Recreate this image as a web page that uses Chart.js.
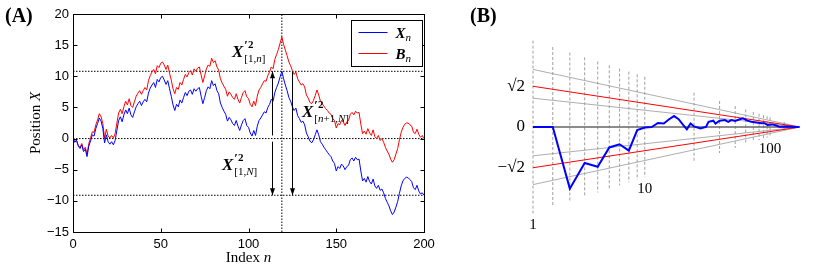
<!DOCTYPE html>
<html>
<head>
<meta charset="utf-8">
<script src="https://cdn.jsdelivr.net/npm/chart.js@4.4.0/dist/chart.umd.min.js"></script>
<style>
body{margin:0;background:#fff;}
#wrap{position:relative;width:831px;height:269px;}
canvas{position:absolute;top:0;}
#chartA{left:0;}
#chartB{left:440px;}
</style>
</head>
<body>
<div id="wrap">
<canvas id="chartA" width="440" height="269"></canvas>
<canvas id="chartB" width="391" height="269"></canvas>
</div>
<script>
// ---- panel A : walk X_n and bridge B_n, n = 0..200
const walkX = [
  0, -0.6, -0.3, -1.2, -1.6, -1.0, -2.1, -1.7, -2.9, -1.2,
  -0.4, 0.6, 0.4, 1.6, 2.4, 3.3, 2.8, 1.6, -0.7, 0.6,
  -0.5, -0.9, -0.5, -1.0, -0.3, 1.3, 2.9, 3.5, 2.7, 3.8,
  4.6, 4.0, 4.9, 3.8, 3.4, 4.3, 5.1, 5.6, 6.0, 5.3,
  5.9, 6.3, 5.9, 7.3, 8.1, 8.6, 9.0, 8.2, 9.5, 9.1,
  9.8, 10.0, 9.4, 8.7, 9.3, 8.0, 6.8, 5.4, 4.5, 5.5,
  5.1, 6.2, 5.7, 6.6, 7.4, 6.9, 7.6, 7.8, 7.1, 8.0,
  7.6, 8.0, 8.2, 6.8, 5.6, 6.6, 7.7, 8.3, 8.0, 9.3,
  8.5, 8.8, 7.7, 7.2, 5.7, 5.0, 4.4, 3.9, 2.8, 3.4,
  3.0, 2.4, 2.1, 2.9, 2.0, 1.3, 2.2, 2.9, 3.2, 2.1,
  1.8, 0.9, 0.4, 1.3, 0.5, 2.0, 2.9, 3.3, 3.8, 4.3,
  4.1, 5.0, 5.5, 6.3, 6.0, 7.4, 8.2, 8.9, 9.9, 10.8,
  9.6, 8.6, 7.7, 6.6, 6.0, 5.1, 4.5, 4.9, 3.7, 3.2,
  2.6, 2.8, 2.2, 0.9, 0.3, -0.4, -0.7, -0.2, 0.6, 1.4,
  0.6, -0.5, -0.9, -1.4, -1.8, -2.2, -2.6, -2.9, -3.6, -4.0,
  -5.2, -4.5, -4.8, -4.1, -4.4, -5.0, -4.5, -4.3, -3.4, -3.1,
  -3.6, -3.0, -3.4, -3.3, -5.2, -6.8, -6.4, -7.0, -6.1, -6.9,
  -7.3, -6.5, -7.6, -8.0, -7.5, -8.3, -8.1, -8.7, -9.6, -10.2,
  -10.8, -11.6, -12.2, -11.8, -11.0, -10.1, -8.8, -7.6, -6.8, -6.4,
  -6.2, -6.3, -6.6, -6.9, -7.9, -8.2, -7.5, -8.4, -8.9, -8.7,
  -9.1
];
const bridgeB = [
  0, -0.5, -0.2, -1.1, -1.4, -0.8, -1.8, -1.4, -2.5, -0.8,
  0.1, 1.1, 1.0, 2.2, 3.0, 4.0, 3.5, 2.4, 0.1, 1.5,
  0.4, 0.1, 0.5, 0.1, 0.8, 2.5, 4.1, 4.7, 4.0, 5.1,
  6.0, 5.4, 6.4, 5.3, 5.0, 5.9, 6.8, 7.3, 7.7, 7.1,
  7.7, 8.2, 7.8, 9.3, 10.1, 10.7, 11.1, 10.4, 11.7, 11.4,
  12.1, 12.3, 11.8, 11.1, 11.8, 10.5, 9.4, 8.0, 7.2, 8.2,
  7.9, 9.0, 8.6, 9.5, 10.3, 9.9, 10.6, 10.9, 10.2, 11.2,
  10.8, 11.3, 11.5, 10.2, 9.0, 10.1, 11.2, 11.8, 11.6, 12.9,
  12.2, 12.5, 11.5, 11.0, 9.6, 8.9, 8.4, 7.9, 6.8, 7.5,
  7.1, 6.6, 6.3, 7.2, 6.3, 5.7, 6.6, 7.4, 7.7, 6.7,
  6.4, 5.5, 5.1, 6.0, 5.3, 6.8, 7.8, 8.2, 8.8, 9.3,
  9.2, 10.1, 10.7, 11.5, 11.2, 12.7, 13.5, 14.3, 15.3, 16.3,
  15.1, 14.2, 13.3, 12.3, 11.7, 10.9, 10.3, 10.7, 9.6, 9.1,
  8.6, 8.8, 8.3, 7.0, 6.5, 5.8, 5.6, 6.1, 6.9, 7.8,
  7.0, 6.0, 5.6, 5.2, 4.8, 4.5, 4.1, 3.9, 3.2, 2.9,
  1.7, 2.4, 2.2, 2.9, 2.7, 2.1, 2.7, 2.9, 3.9, 4.2,
  3.8, 4.4, 4.1, 4.2, 2.3, 0.8, 1.2, 0.7, 1.6, 0.9,
  0.5, 1.4, 0.3, 0.0, 0.5, -0.3, 0.0, -0.6, -1.4, -2.0,
  -2.5, -3.3, -3.8, -3.4, -2.5, -1.6, -0.2, 1.0, 1.8, 2.3,
  2.5, 2.5, 2.2, 2.0, 1.0, 0.8, 1.5, 0.7, 0.2, 0.5,
  0.0
];
const xTicksA = [0, 50, 100, 150, 200];
const yTicksA = [-15, -10, -5, 0, 5, 10, 15, 20];
const maxX = 10.8;   // max of X_n
const endX = -9.1;   // X_N
const nStar = 119;   // argmax

// ---- panel B
const bN = [1, 2, 3, 4, 5, 6, 7, 8, 9, 10, 11, 12, 13, 14, 15, 16, 17, 18, 19, 20,
  22, 24, 25, 27, 28, 30, 33, 35, 37, 40, 44, 47, 52, 57, 65, 75, 83, 91, 110, 129, 150, 230, 500, 3000];
const bY = [0, 0, -2.14, -1.25, -1.38, -0.71, -0.60, -0.82, -0.11, -0.02, 0.0, 0.14, 0.12, 0.27, 0.38, 0.27, 0.08, -0.08, 0.12, 0.02,
  -0.05, 0.0, 0.18, 0.22, 0.12, 0.22, 0.24, 0.18, 0.24, 0.21, 0.27, 0.30, 0.22, 0.18, 0.16, 0.13, 0.13, 0.07, 0.09, 0.05, 0.01, 0.02, 0.0, 0.0];
const gridN = [1, 2, 3, 4, 5, 6, 7, 8, 9, 10, 20, 30, 40, 50, 60, 70, 80, 90, 100, 200];
const labelN = [1, 10, 100];
const coneGray = [1, 2];
const coneRed = [Math.SQRT2];
const coneTop = 3;
const cScale = 11.5;

const serif = '"Liberation Serif", "DejaVu Serif", serif';
Chart.defaults.font.family = '"Liberation Sans", Arial, sans-serif';
Chart.defaults.color = '#000';

function rich(ctx, x, y, parts, center) {
  let w = 0;
  parts.forEach(p => { ctx.font = p.f; w += ctx.measureText(p.t).width; });
  let cx = center ? x - w / 2 : x;
  parts.forEach(p => {
    ctx.font = p.f;
    ctx.fillText(p.t, cx, y + (p.dy || 0));
    cx += ctx.measureText(p.t).width;
  });
  return cx;
}

function primeLabel(ctx, x, y, sub) {
  ctx.font = 'bold italic 17px ' + serif;
  ctx.fillText('X', x, y);
  const sx = x + ctx.measureText('X').width + 1;
  rich(ctx, sx, y - 8, [{t: '\u2032', f: 'bold 13px ' + serif}, {t: '2', f: 'bold 11px ' + serif, dy: -1}]);
  rich(ctx, sx, y + 5, sub);
}

function arrow(ctx, px, y0, y1) {
  ctx.beginPath(); ctx.moveTo(px, y0); ctx.lineTo(px, y1); ctx.stroke();
  const d = y1 > y0 ? 1 : -1;
  ctx.beginPath();
  ctx.moveTo(px, y1);
  ctx.lineTo(px - 2.5, y1 - d * 7);
  ctx.lineTo(px + 2.5, y1 - d * 7);
  ctx.closePath(); ctx.fill();
}

const sub = '11px ' + serif, subI = 'italic 11px ' + serif;

const panelA = {
  id: 'panelA',
  afterDatasetsDraw(chart) {
    const {ctx, chartArea: a, scales: {x, y}} = chart;
    ctx.save();
    ctx.strokeStyle = '#000';
    ctx.fillStyle = '#000';
    ctx.lineWidth = 1;
    const L = Math.round(a.left) + 0.5, R = Math.round(a.right) + 0.5;
    const T = Math.round(a.top) + 0.5, B = Math.round(a.bottom) + 0.5;
    ctx.strokeRect(L, T, R - L, B - T);
    ctx.beginPath();
    xTicksA.forEach(v => {
      const px = Math.round(x.getPixelForValue(v)) + 0.5;
      ctx.moveTo(px, B); ctx.lineTo(px, B - 4);
      ctx.moveTo(px, T); ctx.lineTo(px, T + 4);
    });
    yTicksA.forEach(v => {
      const py = Math.round(y.getPixelForValue(v)) + 0.5;
      ctx.moveTo(L, py); ctx.lineTo(L + 4, py);
      ctx.moveTo(R, py); ctx.lineTo(R - 4, py);
    });
    ctx.stroke();

    // arrows
    const xa = x.getPixelForValue(113.5), xb = x.getPixelForValue(124.6);
    arrow(ctx, Math.round(xa) + 0.5, y.getPixelForValue(0.5), y.getPixelForValue(maxX));
    arrow(ctx, Math.round(xa) + 0.5, y.getPixelForValue(-0.5), y.getPixelForValue(endX));
    arrow(ctx, Math.round(xb) + 0.5, y.getPixelForValue(maxX), y.getPixelForValue(endX));

    ctx.textBaseline = 'alphabetic';
    primeLabel(ctx, x.getPixelForValue(90.6), y.getPixelForValue(13.1),
      [{t: '[1,', f: sub}, {t: 'n', f: subI}, {t: ']', f: sub}]);
    primeLabel(ctx, x.getPixelForValue(130.5), y.getPixelForValue(3.5),
      [{t: '[', f: sub}, {t: 'n', f: subI}, {t: '+1,', f: sub}, {t: 'N', f: subI}, {t: ']', f: sub}]);
    primeLabel(ctx, x.getPixelForValue(84.9), y.getPixelForValue(-5.0),
      [{t: '[1,', f: sub}, {t: 'N', f: subI}, {t: ']', f: sub}]);

    // legend box
    const bx = Math.round(a.right) - 73 + 0.5, by = Math.round(a.top) + 6 + 0.5;
    ctx.fillStyle = '#fff';
    ctx.fillRect(bx, by, 71, 46);
    ctx.strokeStyle = '#000';
    ctx.strokeRect(bx, by, 71, 46);
    [['#0000ff', 'X', 12], ['#ff0000', 'B', 33]].forEach(([c, s, dy]) => {
      ctx.strokeStyle = c;
      ctx.beginPath(); ctx.moveTo(bx + 7, by + dy); ctx.lineTo(bx + 36, by + dy); ctx.stroke();
      ctx.fillStyle = '#000';
      rich(ctx, bx + 44, by + dy + 5, [{t: s, f: 'bold italic 15px ' + serif}, {t: 'n', f: 'italic 11px ' + serif, dy: 3}]);
    });

    // axis titles
    ctx.fillStyle = '#000';
    rich(ctx, (a.left + a.right) / 2, 262, [{t: 'Index ', f: '15px ' + serif}, {t: 'n', f: 'italic 15px ' + serif}], true);
    ctx.save();
    ctx.translate(40, (a.top + a.bottom) / 2);
    ctx.rotate(-Math.PI / 2);
    rich(ctx, 0, 0, [{t: 'Position ', f: '15px ' + serif}, {t: 'X', f: 'italic 15px ' + serif}], true);
    ctx.restore();

    ctx.font = 'bold 20px ' + serif;
    ctx.fillText('(A)', 5, 22);
    ctx.restore();
  }
};

const dotted = {borderColor: '#000', borderWidth: 1, borderDash: [1.5, 1.5], pointRadius: 0};

new Chart(document.getElementById('chartA'), {
  type: 'line',
  data: {
    datasets: [
      {data: walkX.map((v, i) => ({x: i, y: v})), borderColor: '#0000ff', borderWidth: 1},
      {data: bridgeB.map((v, i) => ({x: i, y: v})), borderColor: '#ff0000', borderWidth: 1},
      Object.assign({data: [{x: 0, y: maxX}, {x: 200, y: maxX}]}, dotted),
      Object.assign({data: [{x: 0, y: 0}, {x: 200, y: 0}]}, dotted),
      Object.assign({data: [{x: 0, y: endX}, {x: 200, y: endX}]}, dotted),
      Object.assign({data: [{x: nStar, y: -15}, {x: nStar, y: 20}]}, dotted)
    ]
  },
  options: {
    responsive: false,
    animation: false,
    elements: {point: {radius: 0}, line: {tension: 0}},
    layout: {padding: {left: 0, right: 16, top: 14, bottom: 0}},
    plugins: {legend: {display: false}, tooltip: {enabled: false}},
    scales: {
      x: {
        type: 'linear', min: 0, max: 200,
        afterBuildTicks: s => { s.ticks = xTicksA.map(v => ({value: v})); },
        ticks: {font: {size: 13}, padding: 5, maxRotation: 0},
        grid: {display: false, drawTicks: false},
        border: {display: false},
        afterFit: s => { s.height = 37; }
      },
      y: {
        type: 'linear', min: -15, max: 20,
        afterBuildTicks: s => { s.ticks = yTicksA.map(v => ({value: v})); },
        ticks: {font: {size: 13}, padding: 4, callback: v => String(v).replace('-', '\u2212')},
        grid: {display: false, drawTicks: false},
        border: {display: false},
        afterFit: s => { s.width = 73; }
      }
    }
  },
  plugins: [panelA]
});

// ---- panel B
const tOf = n => n / (n + cScale);
const t0 = tOf(1);
const cone = (level, n) => level * (1 - tOf(n)) / (1 - t0);

const dsB = [];
dsB.push({data: bN.map((n, i) => ({x: tOf(n), y: bY[i]})), borderColor: '#0000ff', borderWidth: 2, clip: false});
dsB.push({data: [{x: t0, y: 0}, {x: 1, y: 0}], borderColor: '#666', borderWidth: 1.5, clip: false});
coneRed.forEach(l => [l, -l].forEach(v => dsB.push({data: [{x: t0, y: v}, {x: 1, y: 0}], borderColor: '#ff0000', borderWidth: 1, clip: false})));
coneGray.forEach(l => [l, -l].forEach(v => dsB.push({data: [{x: t0, y: v}, {x: 1, y: 0}], borderColor: '#999', borderWidth: 0.8, clip: false})));
gridN.forEach(n => dsB.push({
  data: [{x: tOf(n), y: cone(coneTop, n)}, {x: tOf(n), y: -cone(coneTop, n)}],
  borderColor: '#888', borderWidth: 0.8, borderDash: [3, 2], clip: false
}));

const panelB = {
  id: 'panelB',
  afterDatasetsDraw(chart) {
    const {ctx, scales: {x, y}} = chart;
    ctx.save();
    ctx.fillStyle = '#000';
    ctx.textAlign = 'center';
    ctx.textBaseline = 'middle';
    ctx.font = '15px ' + serif;
    labelN.forEach(n => {
      ctx.fillText(String(n), x.getPixelForValue(tOf(n)), y.getPixelForValue(-cone(coneTop, n)) + 12);
    });
    ctx.textAlign = 'left';
    ctx.textBaseline = 'alphabetic';
    ctx.font = 'bold 20px ' + serif;
    ctx.fillText('(B)', 30, 22);
    ctx.restore();
  }
};

new Chart(document.getElementById('chartB'), {
  type: 'line',
  data: {datasets: dsB},
  options: {
    responsive: false,
    animation: false,
    elements: {point: {radius: 0}, line: {tension: 0}},
    layout: {padding: {left: 0, right: 31, top: 40.6, bottom: 55.6}},
    plugins: {legend: {display: false}, tooltip: {enabled: false}},
    scales: {
      x: {type: 'linear', min: t0, max: 1, display: false},
      y: {
        type: 'linear', min: -coneTop, max: coneTop,
        afterBuildTicks: s => { s.ticks = [-Math.SQRT2, 0, Math.SQRT2].map(v => ({value: v})); },
        ticks: {font: {size: 17, family: serif}, padding: 8, callback: (v, i) => ['\u2212\u221a2', '0', '\u221a2'][i]},
        grid: {display: false, drawTicks: false},
        border: {display: false},
        afterFit: s => { s.width = 93; }
      }
    }
  },
  plugins: [panelB]
});
</script>
</body>
</html>
